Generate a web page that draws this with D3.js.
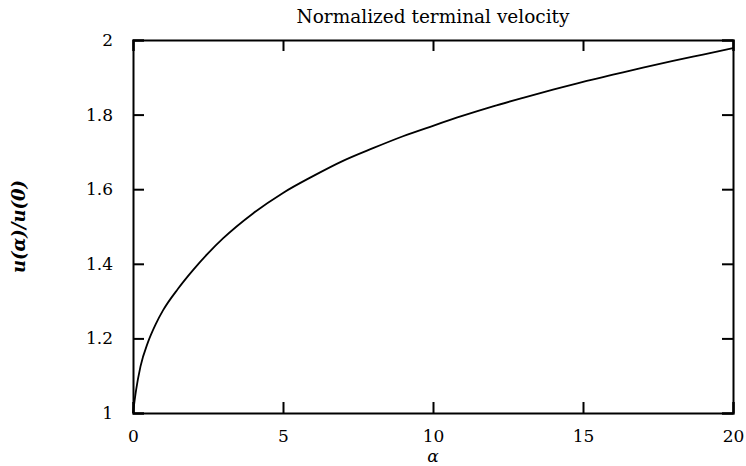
<!DOCTYPE html>
<html>
<head>
<meta charset="utf-8">
<script src="https://cdn.jsdelivr.net/npm/d3@7"></script>
<style>
    body { margin: 0; background: #fff; }
    svg { display: block; }
    text { font-family: "DejaVu Serif", "Liberation Serif", serif; fill: #000; }
</style>
</head>
<body>
<svg id="chart"></svg>
<script>
// data
const alphaValues = [0, 0.1, 0.25, 0.5, 0.75, 1, 1.5, 2, 2.5, 3, 4, 5, 6, 7, 8, 9, 10, 11, 12, 13, 14, 15, 16, 17, 18, 19, 20];
const velocityRatio = [1.0, 1.06, 1.125, 1.19, 1.237, 1.275, 1.333, 1.383, 1.428, 1.468, 1.535, 1.59, 1.635, 1.676, 1.71, 1.742, 1.77, 1.797, 1.822, 1.845, 1.867, 1.888, 1.907, 1.926, 1.944, 1.961, 1.978];
const xTickValues = [0, 5, 10, 15, 20];
const yTickValues = [1, 1.2, 1.4, 1.6, 1.8, 2];
const chartTitle = "Normalized terminal velocity";

const width = 746;
const height = 466;
const margin = { top: 40, right: 13, bottom: 53, left: 133 };

const svg = d3.select("#chart")
    .attr("width", width)
    .attr("height", height);

const innerW = width - margin.left - margin.right;
const innerH = height - margin.top - margin.bottom;

const g = svg.append("g")
    .attr("transform", `translate(${margin.left},${margin.top})`);

const xScale = d3.scaleLinear().domain([0, 20]).range([0, innerW]);
const yScale = d3.scaleLinear().domain([1, 2]).range([innerH, 0]);

const fmt = d => d3.format("~g")(d);

//axes, ticks pointing inwards on all four sides
const tickLen = 11;
const xBottom = g.append("g")
    .attr("transform", `translate(0,${innerH})`)
    .call(d3.axisBottom(xScale).tickValues(xTickValues).tickSize(-tickLen).tickPadding(tickLen + 6).tickFormat(fmt));
const xTop = g.append("g")
    .call(d3.axisTop(xScale).tickValues(xTickValues).tickSize(-tickLen).tickFormat(""));
const yLeft = g.append("g")
    .call(d3.axisLeft(yScale).tickValues(yTickValues).tickSize(-tickLen).tickPadding(tickLen + 9).tickFormat(fmt));
const yRight = g.append("g")
    .attr("transform", `translate(${innerW},0)`)
    .call(d3.axisRight(yScale).tickValues(yTickValues).tickSize(-tickLen).tickFormat(""));

[xBottom, xTop, yLeft, yRight].forEach(ax => {
    ax.select(".domain").attr("stroke", "#000").attr("stroke-width", 2);
    ax.selectAll(".tick line").attr("stroke", "#000").attr("stroke-width", 2);
    ax.selectAll(".tick text")
        .style("font-family", "\"DejaVu Serif\", serif")
        .style("font-size", "17px")
        .attr("fill", "#000");
});

//curve
const line = d3.line()
    .curve(d3.curveMonotoneX)
    .x((d, i) => xScale(alphaValues[i]))
    .y(d => yScale(d));

g.append("path")
    .datum(velocityRatio)
    .attr("fill", "none")
    .attr("stroke", "#000")
    .attr("stroke-width", 1.8)
    .attr("d", line);

//title and axis labels
svg.append("text")
    .attr("x", margin.left + innerW / 2)
    .attr("y", 23)
    .attr("text-anchor", "middle")
    .style("font-size", "18.5px")
    .text(chartTitle);

svg.append("text")
    .attr("x", margin.left + innerW / 2)
    .attr("y", 462)
    .attr("text-anchor", "middle")
    .style("font-size", "17px")
    .style("font-style", "italic")
    .text("α");

svg.append("text")
    .attr("transform", `translate(25,${margin.top + innerH / 2}) rotate(-90)`)
    .attr("text-anchor", "middle")
    .style("font-size", "18px")
    .style("font-style", "italic")
    .style("font-weight", "bold")
    .text("u(α)/u(0)");
</script>
</body>
</html>
